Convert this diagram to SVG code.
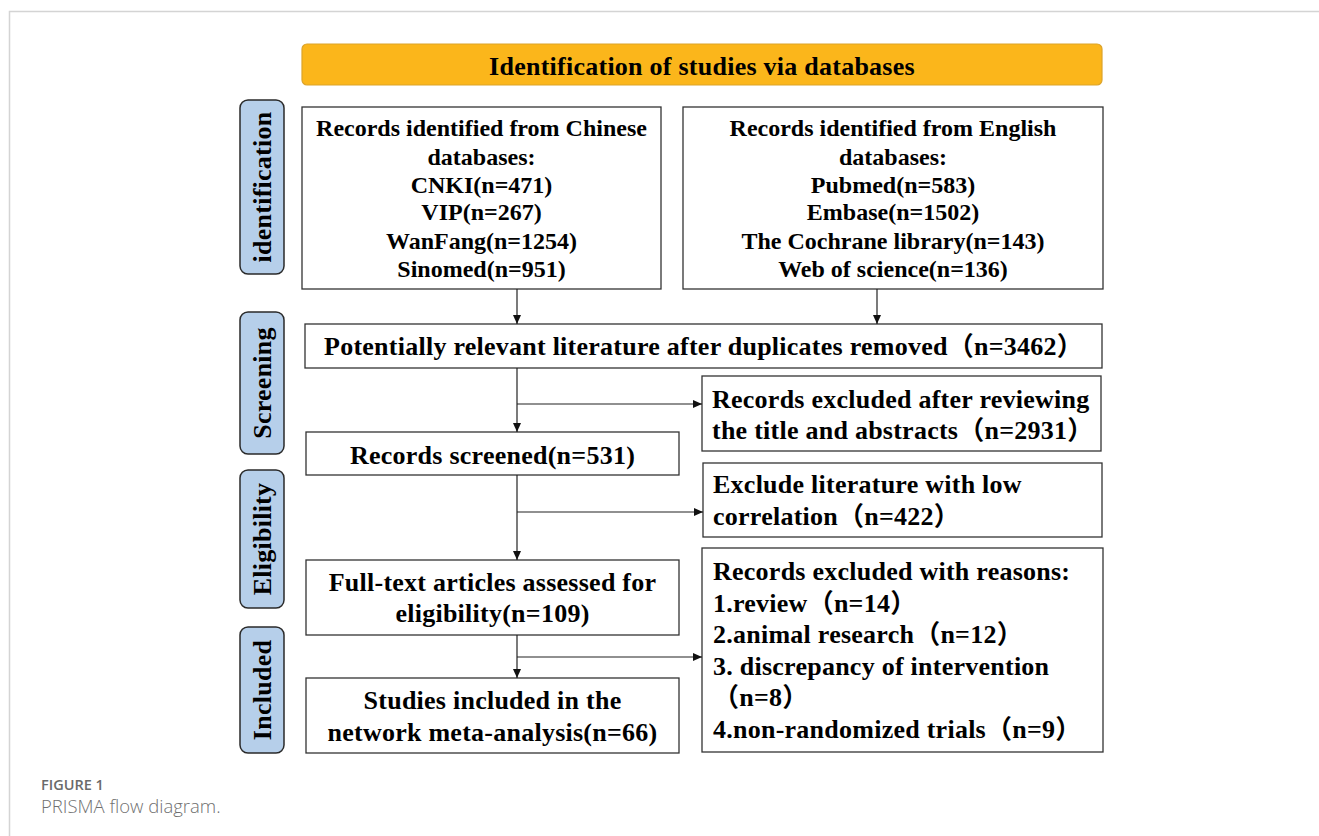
<svg xmlns="http://www.w3.org/2000/svg" width="1319" height="836" viewBox="0 0 1319 836">
<defs>
<marker id="arr" markerWidth="9" markerHeight="8" refX="9" refY="4" orient="auto" markerUnits="userSpaceOnUse">
<path d="M0,0 L9,4 L0,8 Z" fill="#111"/>
</marker>
<style>
.box{fill:#fff;stroke:#333;stroke-width:1.3}
.side{fill:#b6cfea;stroke:#2a2a2a;stroke-width:1.5}
.t{font-family:"Liberation Serif","Times New Roman","Noto Sans CJK SC",serif;font-weight:bold;fill:#000}
.c{text-anchor:middle}
.s24{font-size:24px}
.s26{font-size:26px;letter-spacing:0.25px}
.con{fill:none;stroke:#222;stroke-width:1.2}
</style>
</defs>
<rect width="1319" height="836" fill="#fff"/>
<path d="M9.5,836 V11.5 H1319" fill="none" stroke="#d4d4d4" stroke-width="1.5"/>

<g id="header">
<rect x="302" y="44" width="800" height="41" rx="5" fill="#fbb61b" stroke="#dca32a" stroke-width="1.2"/>
<text class="t c s26" x="702" y="75">Identification of studies via databases</text>
</g>

<g id="side-identification">
<rect class="side" x="240" y="100" width="44" height="174" rx="8"/>
<text class="t c s26" transform="translate(271,187) rotate(-90)">identification</text>
</g>
<g id="side-screening">
<rect class="side" x="240" y="312" width="44" height="142" rx="8"/>
<text class="t c s26" transform="translate(271,383) rotate(-90)">Screening</text>
</g>
<g id="side-eligibility">
<rect class="side" x="240" y="470" width="44" height="138" rx="8"/>
<text class="t c s26" transform="translate(271,539) rotate(-90)">Eligibility</text>
</g>
<g id="side-included">
<rect class="side" x="240" y="627" width="44" height="126" rx="8"/>
<text class="t c s26" transform="translate(271,690) rotate(-90)">Included</text>
</g>

<g id="chinese">
<rect class="box" x="302" y="107" width="359" height="182"/>
<text class="t c s24" x="481.5" y="136">Records identified from Chinese</text>
<text class="t c s24" x="481.5" y="165">databases:</text>
<text class="t c s24" x="481.5" y="193">CNKI(n=471)</text>
<text class="t c s24" x="481.5" y="220">VIP(n=267)</text>
<text class="t c s24" x="481.5" y="249">WanFang(n=1254)</text>
<text class="t c s24" x="481.5" y="277">Sinomed(n=951)</text>
</g>

<g id="english">
<rect class="box" x="683" y="107" width="420" height="182"/>
<text class="t c s24" x="893" y="136">Records identified from English</text>
<text class="t c s24" x="893" y="165">databases:</text>
<text class="t c s24" x="893" y="193">Pubmed(n=583)</text>
<text class="t c s24" x="893" y="220">Embase(n=1502)</text>
<text class="t c s24" x="893" y="249">The Cochrane library(n=143)</text>
<text class="t c s24" x="893" y="277">Web of science(n=136)</text>
</g>

<g id="potential">
<rect class="box" x="305" y="324" width="797" height="44"/>
<text class="t c s26" x="703.5" y="355">Potentially relevant literature after duplicates removed（n=3462）</text>
</g>

<g id="excluded1">
<rect class="box" x="702" y="376" width="399" height="75"/>
<text class="t s26" x="712" y="408">Records excluded after reviewing</text>
<text class="t s26" x="712" y="439">the title and abstracts（n=2931）</text>
</g>

<g id="screened">
<rect class="box" x="306" y="432" width="373" height="43"/>
<text class="t c s26" x="492.5" y="464">Records screened(n=531)</text>
</g>

<g id="excluded2">
<rect class="box" x="703" y="463" width="399" height="74"/>
<text class="t s26" x="713" y="493">Exclude literature with low</text>
<text class="t s26" x="713" y="525">correlation（n=422）</text>
</g>

<g id="fulltext">
<rect class="box" x="306" y="560" width="373" height="75"/>
<text class="t c s26" x="492.5" y="591">Full-text articles assessed for</text>
<text class="t c s26" x="492.5" y="622">eligibility(n=109)</text>
</g>

<g id="excluded3">
<rect class="box" x="702" y="548" width="401" height="204"/>
<text class="t s26" x="713" y="580">Records excluded with reasons:</text>
<text class="t s26" x="713" y="612">1.review（n=14）</text>
<text class="t s26" x="713" y="643">2.animal research（n=12）</text>
<text class="t s26" x="713" y="675">3. discrepancy of intervention</text>
<text class="t s26" x="713" y="706">（n=8）</text>
<text class="t s26" x="713" y="738">4.non-randomized trials（n=9）</text>
</g>

<g id="included">
<rect class="box" x="306" y="678" width="373" height="75"/>
<text class="t c s26" x="492.5" y="709">Studies included in the</text>
<text class="t c s26" x="492.5" y="741">network meta-analysis(n=66)</text>
</g>

<g id="connectors">
<path class="con" d="M517,289 V324" marker-end="url(#arr)"/>
<path class="con" d="M877,289 V324" marker-end="url(#arr)"/>
<path class="con" d="M517,368 V432" marker-end="url(#arr)"/>
<path class="con" d="M517,404 H702" marker-end="url(#arr)"/>
<path class="con" d="M517,475 V560" marker-end="url(#arr)"/>
<path class="con" d="M517,512 H703" marker-end="url(#arr)"/>
<path class="con" d="M517,635 V678" marker-end="url(#arr)"/>
<path class="con" d="M517,657 H702" marker-end="url(#arr)"/>
</g>

<g id="caption">
<text x="41" y="790" font-family="'Open Sans','Noto Sans',sans-serif" font-weight="600" font-size="14.5" fill="#6a6a6a">FIGURE 1</text>
<text x="41" y="813" font-family="'Open Sans','Noto Sans',sans-serif" font-weight="300" font-size="18.5" fill="#707070">PRISMA flow diagram.</text>
</g>
</svg>
